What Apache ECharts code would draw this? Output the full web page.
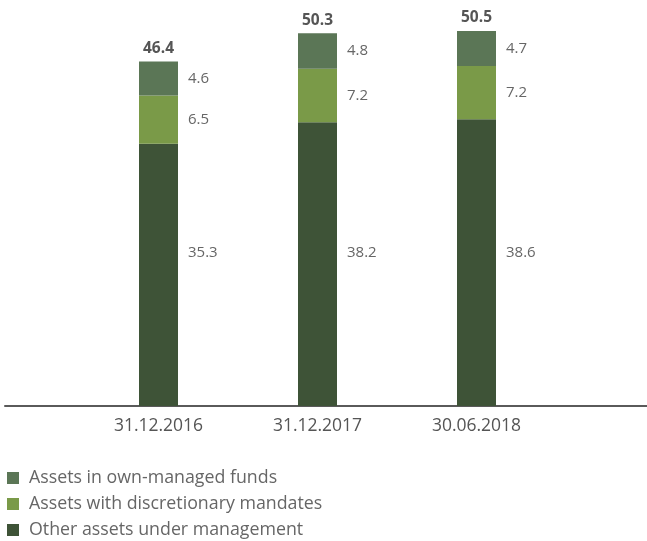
<!DOCTYPE html>
<html>
<head>
<meta charset="utf-8">
<script src="https://cdn.jsdelivr.net/npm/echarts@6/dist/echarts.min.js"></script>
<style>
  html, body { margin: 0; padding: 0; background: #fff; }
  #chart { width: 647px; height: 541px; }
</style>
</head>
<body>
<div id="chart"></div>
<script>
  // values
  var categories = ['31.12.2016', '31.12.2017', '30.06.2018'];
  var otherAssets = [35.3, 38.2, 38.6];
  var discretionary = [6.5, 7.2, 7.2];
  var ownFunds = [4.6, 4.8, 4.7];
  var totals = [46.4, 50.3, 50.5];

  var font = '"Open Sans", sans-serif';
  var yMax = 54;
  var plotHeight = 401; // grid height in px
  var bottomLabelAt = 20.6; // the big labels sit on one line, not mid-bar

  var segLabel = {
    show: true,
    position: 'right',
    distance: 10,
    color: '#666',
    fontSize: 15,
    fontFamily: font
  };

  var otherData = otherAssets.map(function (v) {
    return {
      value: v,
      label: { offset: [0, -(bottomLabelAt - v / 2) * plotHeight / yMax] }
    };
  });

  var myChart = echarts.init(document.getElementById('chart'));
  myChart.setOption({
    animation: false,
    legend: {
      orient: 'vertical',
      left: 7,
      top: 469,
      padding: 0,
      icon: 'rect',
      itemWidth: 12,
      itemHeight: 12,
      itemGap: 8,
      textStyle: { color: '#666', fontSize: 17.8, lineHeight: 17, fontFamily: font, padding: [0, 0, 0, 5] },
      data: ['Assets in own-managed funds', 'Assets with discretionary mandates', 'Other assets under management']
    },
    grid: [
      { left: 79, width: 477, top: 5, height: plotHeight },
      { left: 5, right: 0, top: 5, height: plotHeight }
    ],
    xAxis: [
      {
        type: 'category',
        gridIndex: 0,
        data: categories,
        axisLine: { show: false },
        axisTick: { show: false },
        axisLabel: { color: '#555', fontSize: 17.5, fontFamily: font, margin: 11 }
      },
      {
        type: 'value',
        gridIndex: 1,
        min: 0,
        max: 1,
        axisLine: { show: true, onZero: false, lineStyle: { color: '#5a5a5a', width: 2 } },
        axisTick: { show: false },
        axisLabel: { show: false },
        splitLine: { show: false }
      }
    ],
    yAxis: [
      { type: 'value', gridIndex: 0, min: 0, max: yMax, show: false },
      { type: 'value', gridIndex: 1, min: 0, max: 1, show: false }
    ],
    series: [
      {
        name: 'Other assets under management',
        type: 'bar',
        stack: 'aum',
        barWidth: 39,
        itemStyle: { color: '#3e5337' },
        label: segLabel,
        data: otherData
      },
      {
        name: 'Assets with discretionary mandates',
        type: 'bar',
        stack: 'aum',
        itemStyle: { color: '#7a9a48' },
        label: segLabel,
        data: discretionary
      },
      {
        name: 'Assets in own-managed funds',
        type: 'bar',
        stack: 'aum',
        itemStyle: { color: '#5b7656' },
        label: segLabel,
        data: ownFunds
      },
      {
        name: 'total',
        type: 'bar',
        stack: 'aum',
        itemStyle: { color: 'transparent' },
        label: {
          show: true,
          position: 'top',
          distance: 5,
          color: '#555',
          fontWeight: 'bold',
          fontSize: 15.5,
          fontFamily: font,
          formatter: function (p) { return totals[p.dataIndex].toFixed(1); }
        },
        data: totals.map(function () { return 0; })
      }
    ]
  });
</script>
</body>
</html>
